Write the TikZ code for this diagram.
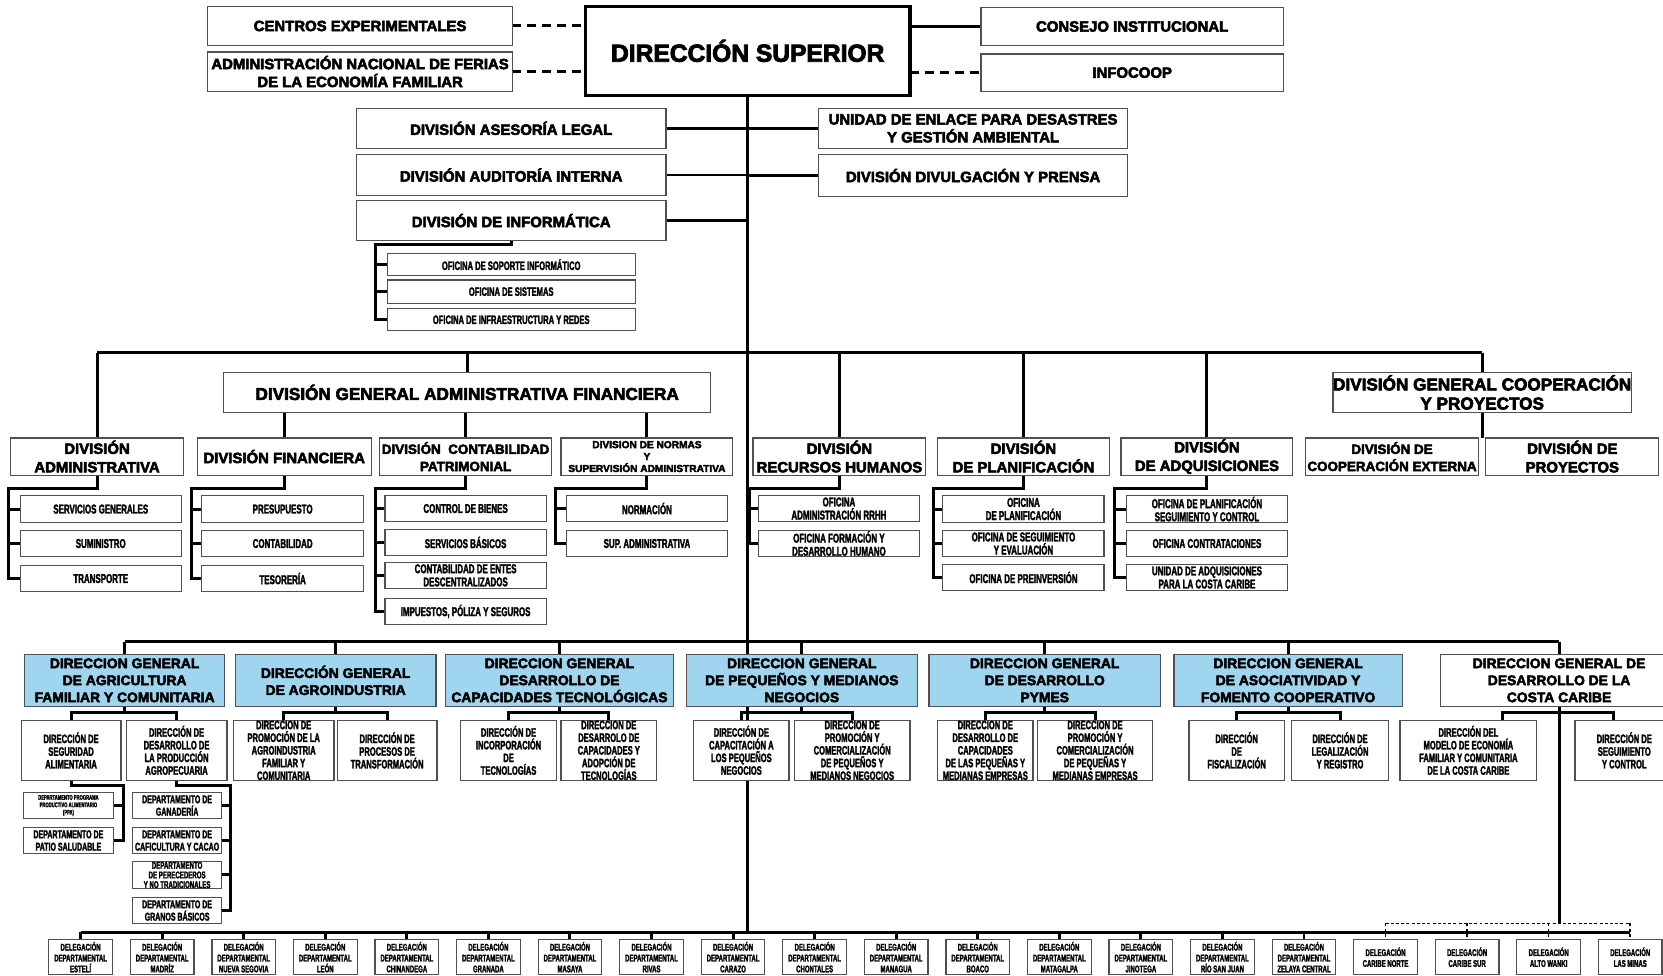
\documentclass[tikz,border=0pt]{standalone}
\usepackage{fontspec}
\newfontfamily\hfont{Liberation Sans Bold}[FakeBold=3.5]
\newfontfamily\cfont{Liberation Sans Bold}[FakeStretch=0.62,FakeBold=2]
\usetikzlibrary{calc}
\pgfdeclarelayer{bg}
\pgfsetlayers{bg,main}
\definecolor{dgblue}{RGB}{160,213,240}
\definecolor{bord}{RGB}{80,80,80}
\newcommand\bx[7][]{\node[bbase,#1,minimum width={(#5-#3)*0.25mm},minimum height={(#6-#4)*0.25mm}] (#2) at ({(#3+#5)/2},{(#4+#6)/2}) {#7};}
\begin{document}
\begin{tikzpicture}[x=0.25mm,y=-0.25mm,
 bbase/.style={draw=bord,line width=0.8pt,fill=white,inner sep=0pt,outer sep=0pt,align=center,text=black},
 tbox/.style={font=\hfont\fontsize{10}{12}\selectfont},
 dsbox/.style={draw=black,line width=2.4pt,font=\hfont\fontsize{16.5}{18}\selectfont},
 dgnbox/.style={font=\hfont\fontsize{11.5}{12.8}\selectfont},
 divbox/.style={font=\hfont\fontsize{10}{12.4}\selectfont},
 subbox/.style={font=\cfont\fontsize{8.6}{8.8}\selectfont},
 ofibox/.style={font=\cfont\fontsize{8.2}{8.8}\selectfont},
 dgbbox/.style={fill=dgblue,font=\hfont\fontsize{9.3}{11.4}\selectfont},
 dgwbox/.style={font=\hfont\fontsize{9.3}{11.4}\selectfont},
 rbox/.style={font=\cfont\fontsize{8.2}{8.5}\selectfont},
 depbox/.style={font=\cfont\fontsize{7.6}{8.3}\selectfont},
 delbox/.style={font=\cfont\fontsize{6.5}{7.3}\selectfont},
 conn/.style={draw=black,line width=2pt},
 dsh/.style={draw=black,line width=2pt,dash pattern=on 6pt off 4pt},
 cdash/.style={draw=black,line width=1pt,dash pattern=on 2pt off 1.5pt}]
\useasboundingbox (0,0) rectangle (1568,920);

% ---------- top ----------
\bx[tbox]{cen}{196}{6}{483}{43}{CENTROS EXPERIMENTALES}
\bx[tbox]{anf}{196}{49}{483}{86}{ADMINISTRACIÓN NACIONAL DE FERIAS\\DE LA ECONOMÍA FAMILIAR}
\bx[dsbox]{ds}{552}{6}{858}{90}{DIRECCIÓN SUPERIOR}
\bx[tbox]{ci}{925}{7}{1210}{43}{CONSEJO INSTITUCIONAL}
\bx[tbox]{inf}{925}{51}{1210}{86}{INFOCOOP}
\bx[tbox]{al}{336}{102}{628}{140}{DIVISIÓN ASESORÍA LEGAL}
\bx[tbox]{ai}{336}{146}{628}{184}{DIVISIÓN AUDITORÍA INTERNA}
\bx[tbox]{di}{336}{189}{628}{227}{DIVISIÓN DE INFORMÁTICA}
\bx[tbox]{ued}{772}{102}{1063}{140}{UNIDAD DE ENLACE PARA DESASTRES\\Y GESTIÓN AMBIENTAL}
\bx[tbox]{ddp}{772}{146}{1063}{185}{DIVISIÓN DIVULGACIÓN Y PRENSA}
\bx[ofibox]{o1}{365}{239}{599}{260}{OFICINA DE SOPORTE INFORMÁTICO}
\bx[ofibox]{o2}{365}{264}{599}{286}{OFICINA DE SISTEMAS}
\bx[ofibox]{o3}{365}{291}{599}{312}{OFICINA DE INFRAESTRUCTURA Y REDES}

% ---------- divisions ----------
\bx[dgnbox]{dgaf}{211}{351}{670}{389}{DIVISIÓN GENERAL ADMINISTRATIVA FINANCIERA}
\bx[dgnbox]{dgcp}{1257}{351}{1538}{389}{DIVISIÓN GENERAL COOPERACIÓN\\Y PROYECTOS}
\bx[divbox]{dadm}{10}{413}{173}{448}{DIVISIÓN\\ADMINISTRATIVA}
\bx[divbox]{dfin}{186}{413}{350}{448}{DIVISIÓN FINANCIERA}
\bx[divbox,font=\hfont\fontsize{9}{11.5}\selectfont]{dcon}{358}{413}{520}{448}{DIVISIÓN\ \ CONTABILIDAD\\PATRIMONIAL}
\bx[divbox,font=\hfont\fontsize{6.8}{8}\selectfont]{dnor}{529}{413}{691}{448}{DIVISION DE NORMAS\\Y\\SUPERVISIÓN ADMINISTRATIVA}
\bx[divbox]{drh}{710}{413}{873}{448}{DIVISIÓN\\RECURSOS HUMANOS}
\bx[divbox]{dpl}{884}{413}{1046}{448}{DIVISIÓN\\DE PLANIFICACIÓN}
\bx[divbox]{dadq}{1057}{413}{1219}{448}{DIVISIÓN\\DE ADQUISICIONES}
\bx[divbox,font=\hfont\fontsize{9}{11.5}\selectfont]{dce}{1231}{413}{1394}{448}{DIVISIÓN DE\\COOPERACIÓN EXTERNA}
\bx[divbox]{dpr}{1401}{413}{1564}{448}{DIVISIÓN DE\\PROYECTOS}

\bx[subbox]{sg}{19}{467}{171}{493}{SERVICIOS GENERALES}
\bx[subbox]{su}{19}{500}{171}{525}{SUMINISTRO}
\bx[subbox]{tr}{19}{533}{171}{558}{TRANSPORTE}
\bx[subbox]{pre}{190}{467}{343}{493}{PRESUPUESTO}
\bx[subbox]{cnt}{190}{500}{343}{525}{CONTABILIDAD}
\bx[subbox]{tes}{190}{533}{343}{558}{TESORERÍA}
\bx[subbox]{cbi}{363}{467}{515}{492}{CONTROL DE BIENES}
\bx[subbox]{sbs}{363}{499}{515}{524}{SERVICIOS BÁSICOS}
\bx[subbox]{cen2}{363}{530}{515}{555}{CONTABILIDAD DE ENTES\\DESCENTRALIZADOS}
\bx[subbox]{ips}{363}{564}{515}{589}{IMPUESTOS, PÓLIZA Y SEGUROS}
\bx[subbox]{nm}{534}{467}{686}{492}{NORMACIÓN}
\bx[subbox]{sa}{534}{500}{686}{525}{SUP. ADMINISTRATIVA}
\bx[subbox]{rh1}{715}{467}{867}{492}{OFICINA\\ADMINISTRACIÓN RRHH}
\bx[subbox]{rh2}{715}{500}{867}{525}{OFICINA FORMACIÓN Y\\DESARROLLO HUMANO}
\bx[subbox]{pl1}{889}{467}{1041}{493}{OFICINA\\DE PLANIFICACIÓN}
\bx[subbox]{pl2}{889}{500}{1041}{525}{OFICINA DE SEGUIMIENTO\\Y EVALUACIÓN}
\bx[subbox]{pl3}{889}{532}{1041}{557}{OFICINA DE PREINVERSIÓN}
\bx[subbox]{aq1}{1062}{467}{1214}{493}{OFICINA DE PLANIFICACIÓN\\SEGUIMIENTO Y CONTROL}
\bx[subbox]{aq2}{1062}{500}{1214}{525}{OFICINA CONTRATACIONES}
\bx[subbox]{aq3}{1062}{532}{1214}{557}{UNIDAD DE ADQUISICIONES\\PARA LA COSTA CARIBE}

% ---------- direcciones generales ----------
\bx[dgbbox]{g1}{23}{617}{212}{666}{DIRECCION GENERAL\\DE AGRICULTURA\\FAMILIAR Y COMUNITARIA}
\bx[dgbbox]{g2}{222}{617}{411}{666}{DIRECCIÓN GENERAL\\DE AGROINDUSTRIA}
\bx[dgbbox]{g3}{420}{617}{635}{666}{DIRECCION GENERAL\\DESARROLLO DE\\CAPACIDADES TECNOLÓGICAS}
\bx[dgbbox]{g4}{647}{617}{865}{666}{DIRECCION GENERAL\\DE PEQUEÑOS Y MEDIANOS\\NEGOCIOS}
\bx[dgbbox]{g5}{876}{617}{1094}{666}{DIRECCION GENERAL\\DE DESARROLLO\\PYMES}
\bx[dgbbox]{g6}{1107}{617}{1322}{666}{DIRECCION GENERAL\\DE ASOCIATIVIDAD Y\\FOMENTO COOPERATIVO}
\bx[dgwbox]{g7}{1358}{617}{1582}{666}{DIRECCION GENERAL DE\\DESARROLLO DE LA\\COSTA CARIBE}

\bx[rbox]{g1a}{20}{679}{114}{736}{DIRECCIÓN DE\\SEGURIDAD\\ALIMENTARIA}
\bx[rbox]{g1b}{119}{679}{214}{736}{DIRECCIÓN DE\\DESARROLLO DE\\LA PRODUCCIÓN\\AGROPECUARIA}
\bx[rbox]{g2a}{220}{679}{315}{736}{DIRECCION DE\\PROMOCIÓN DE LA\\AGROINDUSTRIA\\FAMILIAR Y\\COMUNITARIA}
\bx[rbox]{g2b}{318}{679}{412}{736}{DIRECCIÓN DE\\PROCESOS DE\\TRANSFORMACIÓN}
\bx[rbox]{g3a}{434}{679}{525}{736}{DIRECCIÓN DE\\INCORPORACIÓN\\DE\\TECNOLOGÍAS}
\bx[rbox]{g3b}{529}{679}{619}{736}{DIRECCION DE\\DESARROLO DE\\CAPACIDADES Y\\ADOPCIÓN DE\\TECNOLOGÍAS}
\bx[rbox]{g4a}{654}{679}{744}{736}{DIRECCIÓN DE\\CAPACITACIÓN A\\LOS PEQUEÑOS\\NEGOCIOS}
\bx[rbox]{g4b}{749}{679}{858}{736}{DIRECCION DE\\PROMOCIÓN Y\\COMERCIALIZACIÓN\\DE PEQUEÑOS Y\\MEDIANOS NEGOCIOS}
\bx[rbox]{g5a}{884}{679}{974}{736}{DIRECCION DE\\DESARROLLO DE\\CAPACIDADES\\DE LAS PEQUEÑAS Y\\MEDIANAS EMPRESAS}
\bx[rbox]{g5b}{978}{679}{1087}{736}{DIRECCION DE\\PROMOCIÓN Y\\COMERCIALIZACIÓN\\DE PEQUEÑAS Y\\MEDIANAS EMPRESAS}
\bx[rbox]{g6a}{1121}{679}{1211}{736}{DIRECCIÓN\\DE\\FISCALIZACIÓN}
\bx[rbox]{g6b}{1218}{679}{1309}{736}{DIRECCIÓN DE\\LEGALIZACIÓN\\Y REGISTRO}
\bx[rbox]{g7a}{1320}{679}{1449}{736}{DIRECCIÓN DEL\\MODELO DE ECONOMÍA\\FAMILIAR Y COMUNITARIA\\DE LA COSTA CARIBE}
\bx[rbox]{g7b}{1485}{679}{1578}{736}{DIRECCIÓN DE\\SEGUIMIENTO\\Y CONTROL}

\bx[depbox,font=\cfont\fontsize{4.5}{5}\selectfont]{ppa}{22}{747}{107}{772}{DEPARTAMENTO PROGRAMA\\PRODUCTIVO ALIMENTARIO\\(PPA)}
\bx[depbox]{pat}{22}{780}{107}{805}{DEPARTAMENTO DE\\PATIO SALUDABLE}
\bx[depbox]{gan}{125}{747}{209}{772}{DEPARTAMENTO DE\\GANADERÍA}
\bx[depbox]{caf}{125}{780}{209}{805}{DEPARTAMENTO DE\\CAFICULTURA Y CACAO}
\bx[depbox,font=\cfont\fontsize{6.6}{6.5}\selectfont]{per}{125}{812}{209}{838}{DEPARTAMENTO\\DE PERECEDEROS\\Y NO TRADICIONALES}
\bx[depbox]{gra}{125}{846}{209}{871}{DEPARTAMENTO DE\\GRANOS BÁSICOS}

% ---------- delegaciones ----------
\foreach \i/\t in {0/{DEPARTAMENTAL\\ESTELÍ},1/{DEPARTAMENTAL\\MADRÍZ},2/{DEPARTAMENTAL\\NUEVA SEGOVIA},3/{DEPARTAMENTAL\\LEÓN},4/{DEPARTAMENTAL\\CHINANDEGA},5/{DEPARTAMENTAL\\GRANADA},6/{DEPARTAMENTAL\\MASAYA},7/{DEPARTAMENTAL\\RIVAS},8/{DEPARTAMENTAL\\CARAZO},9/{DEPARTAMENTAL\\CHONTALES},10/{DEPARTAMENTAL\\MANAGUA},11/{DEPARTAMENTAL\\BOACO},12/{DEPARTAMENTAL\\MATAGALPA},13/{DEPARTAMENTAL\\JINOTEGA},14/{DEPARTAMENTAL\\RÍO SAN JUAN},15/{DEPARTAMENTAL\\ZELAYA CENTRAL},16/{CARIBE NORTE},17/{CARIBE SUR},18/{ALTO WANKI},19/{LAS MINAS}}{
  \pgfmathsetmacro\xa{46+\i*76.9}
  \pgfmathsetmacro\xb{\xa+60}
  \bx[delbox]{d\i}{\xa}{886}{\xb}{919}{DELEGACIÓN\\\t}
}

% ---------- connectors ----------
\coordinate (b1) at (0,332.5);
\coordinate (b2) at (0,605);
\coordinate (b3) at (0,671.5);
\coordinate (db) at (0,879);
\coordinate (cbus) at (0,870.6);
\coordinate (iB) at (354,231);
\coordinate (kA) at (8.4,461);
\coordinate (kF) at (181,461);
\coordinate (kC) at (354,461);
\coordinate (kN) at (524,461);
\coordinate (kR) at (707,461);
\coordinate (kP) at (880,461);
\coordinate (kQ) at (1051,461);
\coordinate (kS) at (116.2,741);
\coordinate (kD) at (217,741);
\coordinate (g7l) at (1417,679);
\coordinate (g7r) at (1521,679);

\begin{pgfonlayer}{bg}
\draw[dsh] (cen.east) -- (cen.east -| ds.west);
\draw[dsh] (anf.east) -- (anf.east -| ds.west);
\draw[conn] (ds.east |- ci.west) -- (ci.west);
\draw[dsh] (ds.east |- inf.west) -- (inf.west);
\draw[conn] (ds.south) -- (ds.south |- db);
\foreach \n in {al,ai,di} \draw[conn] (\n.east) -- (\n.east -| ds.south);
\foreach \n in {ued,ddp} \draw[conn] (\n.west) -- (\n.west -| ds.south);
\draw[conn] (di.south) |- (iB) |- (o3.west);
\draw[conn] (iB) |- (o1.west);
\draw[conn] (iB) |- (o2.west);

\draw[conn] (dadm.north |- b1) -- (dgcp.north |- b1);
\foreach \n in {dadm,dgaf,drh,dpl,dadq,dgcp} \draw[conn] (\n.north |- b1) -- (\n.north);
\foreach \n in {dfin,dcon,dnor} \draw[conn] (dgaf.south -| \n.north) -- (\n.north);
\draw[conn] (dgcp.south) -- (dgcp.south |- dce.north);

\draw[conn] (dadm.south) |- (kA) |- (tr.west);
\draw[conn] (kA) |- (sg.west); \draw[conn] (kA) |- (su.west);
\draw[conn] (dfin.south) |- (kF) |- (tes.west);
\draw[conn] (kF) |- (pre.west); \draw[conn] (kF) |- (cnt.west);
\draw[conn] (dcon.south) |- (kC) |- (ips.west);
\draw[conn] (kC) |- (cbi.west); \draw[conn] (kC) |- (sbs.west); \draw[conn] (kC) |- (cen2.west);
\draw[conn] (dnor.south) |- (kN) |- (sa.west);
\draw[conn] (kN) |- (nm.west);
\draw[conn] (drh.south) |- (kR) |- (rh2.west);
\draw[conn] (kR) |- (rh1.west);
\draw[conn] (dpl.south) |- (kP) |- (pl3.west);
\draw[conn] (kP) |- (pl1.west); \draw[conn] (kP) |- (pl2.west);
\draw[conn] (dadq.south) |- (kQ) |- (aq3.west);
\draw[conn] (kQ) |- (aq1.west); \draw[conn] (kQ) |- (aq2.west);

\draw[conn] (g1.north |- b2) -- (g7.north |- b2);
\foreach \n in {g1,g2,g3,g4,g5,g6,g7} \draw[conn] (\n.north |- b2) -- (\n.north);
\foreach \p/\a/\b in {g1/g1a/g1b,g2/g2a/g2b,g3/g3a/g3b,g4/g4a/g4b,g5/g5a/g5b,g6/g6a/g6b}{
  \draw[conn] (\p.south) -- (\p.south |- b3);
  \draw[conn] (\a.north) |- (\b.north |- b3) -- (\b.north);
}
\draw[conn] (g7l) |- (g7r |- b3) -- (g7r);
\draw[conn] (g7.south) -- (g7.south |- cbus);

\draw[conn] (g1a.south) |- (kS) |- (pat.east);
\draw[conn] (kS) |- (ppa.east);
\draw[conn] (g1b.south) |- (kD) |- (gra.east);
\draw[conn] (kD) |- (gan.east); \draw[conn] (kD) |- (caf.east); \draw[conn] (kD) |- (per.east);

\draw[conn] (d0.north |- db) -- (d19.north |- db);
\foreach \i in {0,...,15} \draw[conn] (d\i.north) -- (d\i.north |- db);
\draw[cdash] (d16.north |- cbus) -- (d19.north |- cbus);
\foreach \i in {16,...,19} \draw[cdash] (d\i.north |- cbus) -- (d\i.north);
\end{pgfonlayer}
\end{tikzpicture}
\end{document}
